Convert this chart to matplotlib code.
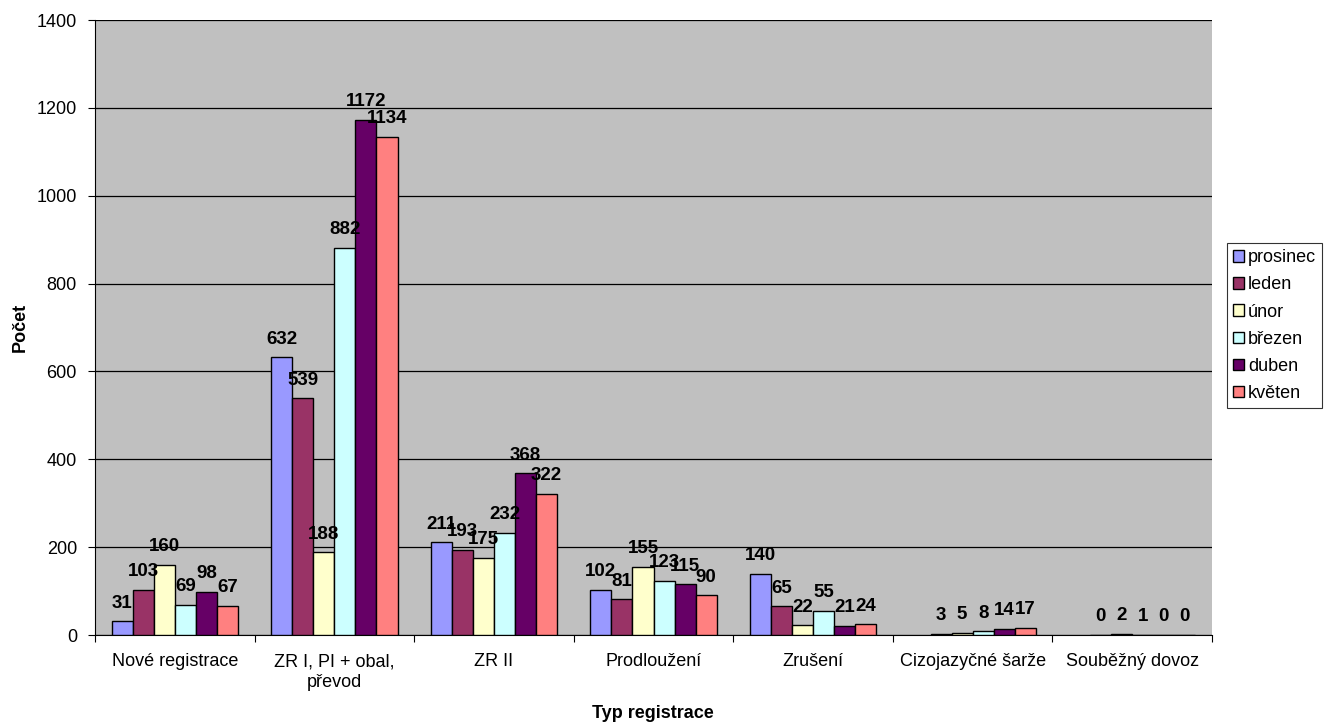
import numpy as np
import matplotlib
matplotlib.use("Agg")
import matplotlib.pyplot as plt

plt.rcParams['font.family'] = ['Liberation Sans', 'DejaVu Sans']

categories = ["Nové registrace", "ZR I, PI + obal,\npřevod", "ZR II", "Prodloužení",
              "Zrušení", "Cizojazyčné šarže", "Souběžný dovoz"]
series_names = ["prosinec", "leden", "únor", "březen", "duben", "květen"]
prosinec = [31, 632, 211, 102, 140, np.nan, np.nan]
leden = [103, 539, 193, 81, 65, 3, 0]
unor = [160, 188, 175, 155, 22, 5, 2]
brezen = [69, 882, 232, 123, 55, 8, 1]
duben = [98, 1172, 368, 115, 21, 14, 0]
kveten = [67, 1134, 322, 90, 24, 17, 0]
series = [prosinec, leden, unor, brezen, duben, kveten]
colors = ["#9999FF", "#993366", "#FFFFCC", "#CCFFFF", "#660066", "#FF8080"]

fig = plt.figure(figsize=(13.24, 7.27), dpi=100)
ax = fig.add_axes([95/1324, 1 - 635/727, (1212-95)/1324, (635-20)/727])
ax.set_facecolor("#C0C0C0")

n = len(categories)
x = np.arange(n)
bw = 0.132
for i, (vals, c, name) in enumerate(zip(series, colors, series_names)):
    pos = x - 2.5*bw + i*bw
    vals_arr = np.array(vals, dtype=float)
    ax.bar(pos, vals_arr, width=bw, color=c, edgecolor="black", linewidth=1.0,
           label=name, zorder=3)
    for p, v in zip(pos, vals_arr):
        if not np.isnan(v):
            ax.annotate(f"{int(v)}", (p, v), xytext=(0, 7), textcoords="offset points",
                        ha="center", va="bottom", fontsize=13.5, fontweight="bold",
                        zorder=4, annotation_clip=False)

ax.set_xlim(-0.5, n - 0.5)
ax.set_ylim(0, 1400)
ax.set_yticks(np.arange(0, 1401, 200))
ax.yaxis.grid(True, color="black", linewidth=0.9, zorder=0)
ax.set_axisbelow(True)
ax.set_xticks(np.arange(-0.5, n, 1))
ax.set_xticklabels([])
ax.set_xticks(x, minor=True)
ax.set_xticklabels(categories, minor=True, fontsize=13, linespacing=1.3)
ax.tick_params(axis="x", which="minor", length=0, pad=13)
ax.tick_params(axis="x", which="major", length=5, direction="out")
ax.tick_params(axis="y", length=5, direction="out", labelsize=13, pad=8)
for s in ["top", "right"]:
    ax.spines[s].set_visible(False)
ax.spines["left"].set_color("black")
ax.spines["bottom"].set_color("black")

fig.text(653/1324, 1 - 718/727, "Typ registrace", fontsize=13, fontweight="bold",
         ha="center", va="baseline")
fig.text(20/1324, 1 - 327/727, "Počet", fontsize=13, fontweight="bold",
         ha="center", va="center", rotation=90)

leg = ax.legend(loc="upper left", bbox_to_anchor=(1227/1324, 1 - 243/727),
                bbox_transform=fig.transFigure, fontsize=13, frameon=True,
                fancybox=False, edgecolor="black", handlelength=0.6, handleheight=0.6,
                handletextpad=0.2, borderpad=0.35, labelspacing=0.56, borderaxespad=0)
leg.get_frame().set_linewidth(0.8)

fig.savefig("out.png", dpi=100)
